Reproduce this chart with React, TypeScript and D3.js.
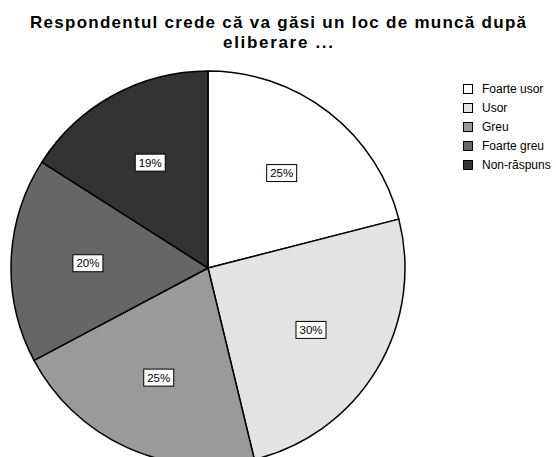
import React, { useEffect, useRef } from 'react';
import * as d3 from 'd3';

// chart data
const categories = ['Foarte usor', 'Usor', 'Greu', 'Foarte greu', 'Non-răspuns'];
const values = [25, 30, 25, 20, 19];
const labels = ['25%', '30%', '25%', '20%', '19%'];
const colors = ['#ffffff', '#e3e3e3', '#9a9a9a', '#666666', '#333333'];
const titleLines = ['Respondentul crede că va găsi un loc de muncă după', 'eliberare ...'];
const titleWidths = [496, 110];

const W = 556;
const H = 457;

const App = () => {
  const ref = useRef<SVGSVGElement>(null);

  useEffect(() => {
    const svg = d3.select(ref.current);
    svg.selectAll('*').remove();

    // title (spread out like the original)
    svg.append('g')
      .selectAll('text')
      .data(titleLines)
      .enter()
      .append('text')
      .attr('x', 278)
      .attr('y', (d, i) => 28 + i * 20)
      .attr('text-anchor', 'middle')
      .attr('textLength', (d, i) => titleWidths[i])
      .attr('lengthAdjust', 'spacing')
      .style('font-family', '"Liberation Sans", Arial, sans-serif')
      .style('font-weight', 'bold')
      .style('font-size', '17px')
      .text(d => d);

    // pie
    const cx = 208, cy = 268, r = 197;
    const pie = d3.pie<number>().sort(null).value(d => d);
    const arcs = pie(values);
    const arc = d3.arc<d3.PieArcDatum<number>>().innerRadius(0).outerRadius(r);
    const labelArc = d3.arc<d3.PieArcDatum<number>>().innerRadius(r * 0.61).outerRadius(r * 0.61);

    const g = svg.append('g').attr('transform', `translate(${cx},${cy})`);
    g.selectAll('path')
      .data(arcs)
      .enter()
      .append('path')
      .attr('d', arc)
      .attr('fill', (d, i) => colors[i])
      .attr('stroke', '#000')
      .attr('stroke-width', 1.5)
      .attr('stroke-linejoin', 'round');

    // percentage labels
    const lab = g.selectAll('g.lab')
      .data(arcs)
      .enter()
      .append('g')
      .attr('class', 'lab')
      .attr('transform', d => `translate(${labelArc.centroid(d)})`);
    lab.append('rect')
      .attr('x', -15)
      .attr('y', -8.5)
      .attr('width', 30)
      .attr('height', 17)
      .attr('fill', '#fff')
      .attr('stroke', '#000')
      .attr('stroke-width', 1);
    lab.append('text')
      .attr('text-anchor', 'middle')
      .attr('dy', '0.36em')
      .style('font-family', '"Liberation Sans", Arial, sans-serif')
      .style('font-size', '11.5px')
      .text((d, i) => labels[i]);

    // legend
    const legend = svg.append('g').attr('transform', 'translate(463,89)');
    const rows = legend.selectAll('g')
      .data(categories)
      .enter()
      .append('g')
      .attr('transform', (d, i) => `translate(0,${i * 19})`);
    rows.append('rect')
      .attr('x', 0.5)
      .attr('y', -4.5)
      .attr('width', 9)
      .attr('height', 9)
      .attr('fill', (d, i) => colors[i])
      .attr('stroke', '#000')
      .attr('stroke-width', 1);
    rows.append('text')
      .attr('x', 19)
      .attr('dy', '0.36em')
      .style('font-family', '"Liberation Sans", Arial, sans-serif')
      .style('font-size', '12px')
      .text(d => d);
  }, []);

  return (
    <svg ref={ref} width={W} height={H}
      style={{ position: 'absolute', left: 0, top: 0, background: '#fff' }} />
  );
};

export default App;
